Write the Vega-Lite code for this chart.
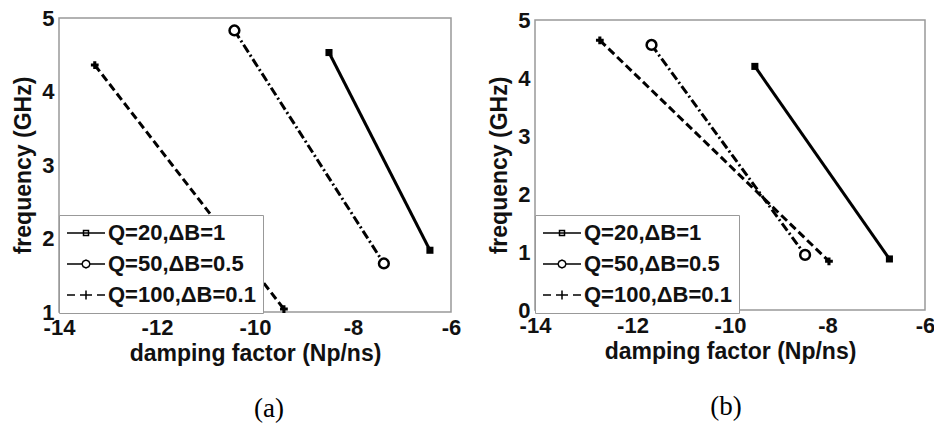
{
  "$schema": "https://vega.github.io/schema/vega-lite/v6.json",
  "padding": {"left": 12, "top": 6, "right": 0, "bottom": 0},
  "background": "white",
  "hconcat": [
    {
      "width": 392,
      "height": 294,
      "data": {"values": [
        {"series": "Q=20,ΔB=1", "x": -8.49, "y": 4.53},
        {"series": "Q=20,ΔB=1", "x": -6.43, "y": 1.84},
        {"series": "Q=50,ΔB=0.5", "x": -10.42, "y": 4.83},
        {"series": "Q=50,ΔB=0.5", "x": -7.37, "y": 1.66},
        {"series": "Q=100,ΔB=0.1", "x": -13.27, "y": 4.36},
        {"series": "Q=100,ΔB=0.1", "x": -9.41, "y": 1.04}
      ]},
      "title": {"text": "(a)", "orient": "bottom", "font": "Liberation Serif", "fontSize": 27, "fontWeight": "normal", "color": "black", "offset": 31, "dx": 14},
      "encoding": {
        "x": {"field": "x", "type": "quantitative", "title": "damping factor (Np/ns)", "scale": {"domain": [-14, -6], "nice": false, "zero": false}, "axis": {"values": [-14, -12, -10, -8, -6], "format": "d"}},
        "y": {"field": "y", "type": "quantitative", "title": "frequency (GHz)", "scale": {"domain": [1, 5], "nice": false, "zero": false}, "axis": {"values": [1, 2, 3, 4, 5], "format": "d"}}
      },
      "layer": [
        {
          "transform": [{"filter": {"field": "series", "equal": "Q=20,ΔB=1"}}],
          "mark": {"type": "line", "color": "black", "strokeWidth": 3},
          "encoding": {}
        },
        {
          "transform": [{"filter": {"field": "series", "equal": "Q=50,ΔB=0.5"}}],
          "mark": {"type": "line", "color": "black", "strokeWidth": 3, "strokeDash": [9, 3, 2, 3]},
          "encoding": {}
        },
        {
          "transform": [{"filter": {"field": "series", "equal": "Q=100,ΔB=0.1"}}],
          "mark": {"type": "line", "color": "black", "strokeWidth": 3, "strokeDash": [8, 4]},
          "encoding": {}
        },
        {
          "transform": [{"filter": {"field": "series", "equal": "Q=20,ΔB=1"}}],
          "mark": {"type": "point", "shape": "square", "filled": true, "color": "black", "opacity": 1, "size": 50},
          "encoding": {}
        },
        {
          "transform": [{"filter": {"field": "series", "equal": "Q=50,ΔB=0.5"}}],
          "mark": {"type": "point", "shape": "circle", "fill": "white", "stroke": "black", "strokeWidth": 2.5, "opacity": 1, "size": 95},
          "encoding": {}
        },
        {
          "transform": [{"filter": {"field": "series", "equal": "Q=100,ΔB=0.1"}}],
          "mark": {"type": "point", "shape": "cross", "filled": true, "color": "black", "opacity": 1, "size": 60},
          "encoding": {}
        },
        {
          "mark": {"type": "point", "opacity": 1, "fill": "white", "stroke": "black", "strokeWidth": 3, "xOffset": -5000, "clip": true},
          "encoding": {
            "shape": {"field": "series", "type": "nominal",
              "scale": {"domain": ["Q=20,ΔB=1", "Q=50,ΔB=0.5", "Q=100,ΔB=0.1"], "range": [
                "M-1,0L2.8,0M0.65,-0.25L1.15,-0.25L1.15,0.25L0.65,0.25Z",
                "M-1,0L0.5,0M1.3,0L2.8,0M1.3,0L1.18,0.28L0.9,0.4L0.62,0.28L0.5,0L0.62,-0.28L0.9,-0.4L1.18,-0.28Z",
                "M-1,0L-0.2,0M0.3,0L1.5,0M0.9,-0.45L0.9,0.45M2,0L2.8,0"
              ]},
              "legend": {"orient": "none", "legendX": 0, "legendY": 197, "title": null, "padding": 7, "strokeColor": "#999", "fillColor": "white", "symbolSize": 400, "labelOffset": 20, "rowPadding": 9, "labelFont": "Liberation Sans", "labelFontSize": 22, "labelFontWeight": "bold", "labelColor": "#111", "labelLimit": 300}
            }
          }
        }
      ]
    },
    {
      "width": 390,
      "height": 290,
      "data": {"values": [
        {"series": "Q=20,ΔB=1", "x": -9.49, "y": 4.2},
        {"series": "Q=20,ΔB=1", "x": -6.73, "y": 0.88},
        {"series": "Q=50,ΔB=0.5", "x": -11.61, "y": 4.57},
        {"series": "Q=50,ΔB=0.5", "x": -8.46, "y": 0.95},
        {"series": "Q=100,ΔB=0.1", "x": -12.67, "y": 4.65},
        {"series": "Q=100,ΔB=0.1", "x": -7.97, "y": 0.84}
      ]},
      "title": {"text": "(b)", "orient": "bottom", "font": "Liberation Serif", "fontSize": 27, "fontWeight": "normal", "color": "black", "offset": 31, "dx": -4},
      "encoding": {
        "x": {"field": "x", "type": "quantitative", "title": "damping factor (Np/ns)", "scale": {"domain": [-14, -6], "nice": false, "zero": false}, "axis": {"values": [-14, -12, -10, -8, -6], "format": "d"}},
        "y": {"field": "y", "type": "quantitative", "title": "frequency (GHz)", "scale": {"domain": [0, 5], "nice": false}, "axis": {"values": [0, 1, 2, 3, 4, 5], "format": "d"}}
      },
      "layer": [
        {
          "transform": [{"filter": {"field": "series", "equal": "Q=20,ΔB=1"}}],
          "mark": {"type": "line", "color": "black", "strokeWidth": 3},
          "encoding": {}
        },
        {
          "transform": [{"filter": {"field": "series", "equal": "Q=50,ΔB=0.5"}}],
          "mark": {"type": "line", "color": "black", "strokeWidth": 3, "strokeDash": [9, 3, 2, 3]},
          "encoding": {}
        },
        {
          "transform": [{"filter": {"field": "series", "equal": "Q=100,ΔB=0.1"}}],
          "mark": {"type": "line", "color": "black", "strokeWidth": 3, "strokeDash": [8, 4]},
          "encoding": {}
        },
        {
          "transform": [{"filter": {"field": "series", "equal": "Q=20,ΔB=1"}}],
          "mark": {"type": "point", "shape": "square", "filled": true, "color": "black", "opacity": 1, "size": 50},
          "encoding": {}
        },
        {
          "transform": [{"filter": {"field": "series", "equal": "Q=50,ΔB=0.5"}}],
          "mark": {"type": "point", "shape": "circle", "fill": "white", "stroke": "black", "strokeWidth": 2.5, "opacity": 1, "size": 95},
          "encoding": {}
        },
        {
          "transform": [{"filter": {"field": "series", "equal": "Q=100,ΔB=0.1"}}],
          "mark": {"type": "point", "shape": "cross", "filled": true, "color": "black", "opacity": 1, "size": 60},
          "encoding": {}
        },
        {
          "mark": {"type": "point", "opacity": 1, "fill": "white", "stroke": "black", "strokeWidth": 3, "xOffset": -5000, "clip": true},
          "encoding": {
            "shape": {"field": "series", "type": "nominal",
              "scale": {"domain": ["Q=20,ΔB=1", "Q=50,ΔB=0.5", "Q=100,ΔB=0.1"], "range": [
                "M-1,0L2.8,0M0.65,-0.25L1.15,-0.25L1.15,0.25L0.65,0.25Z",
                "M-1,0L0.5,0M1.3,0L2.8,0M1.3,0L1.18,0.28L0.9,0.4L0.62,0.28L0.5,0L0.62,-0.28L0.9,-0.4L1.18,-0.28Z",
                "M-1,0L-0.2,0M0.3,0L1.5,0M0.9,-0.45L0.9,0.45M2,0L2.8,0"
              ]},
              "legend": {"orient": "none", "legendX": 0, "legendY": 195, "title": null, "padding": 7, "strokeColor": "#999", "fillColor": "white", "symbolSize": 400, "labelOffset": 20, "rowPadding": 9, "labelFont": "Liberation Sans", "labelFontSize": 22, "labelFontWeight": "bold", "labelColor": "#111", "labelLimit": 300}
            }
          }
        }
      ]
    }
  ],
  "resolve": {"scale": {"shape": "independent"}, "legend": {"shape": "independent"}},
  "spacing": 84,
  "bounds": "flush",
  "center": true,
  "config": {
    "view": {"stroke": "#999", "strokeWidth": 1.5},
    "axis": {"domain": false, "ticks": false, "grid": false, "labelFont": "Liberation Sans", "labelFontSize": 22, "labelFontWeight": "bold", "labelColor": "#111", "labelPadding": 5, "titleFont": "Liberation Sans", "titleFontSize": 23, "titleFontWeight": "bold", "titleColor": "#111", "labelExpr": "replace(datum.label, '\u2212', '-')", "labelFlush": false, "labelOverlap": false},
    "axisY": {"titlePadding": 6},
    "axisX": {"titlePadding": 4}
  }
}
